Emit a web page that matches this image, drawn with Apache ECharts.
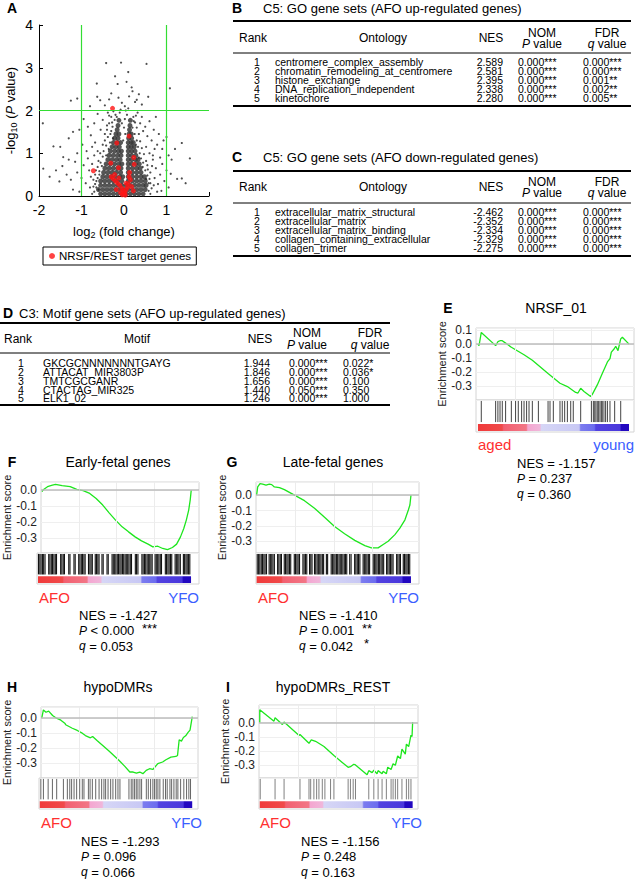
<!DOCTYPE html>
<html>
<head>
<meta charset="utf-8">
<script src="https://cdn.jsdelivr.net/npm/echarts@6/dist/echarts.min.js"></script>
<style>
  html, body { margin: 0; padding: 0; background: #fff; }
  #main { width: 636px; height: 879px; }
</style>
</head>
<body>
<div id="main"></div>
<script>
const FONT = '"Liberation Sans", Arial, sans-serif'

// ---- A: volcano plot ----
const volcanoCore = [
  [-0.55,0.05],[-0.45,0.05],[-0.35,0.05],[-0.25,0.05],[-0.15,0.05],[-0.05,0.05],[0.05,0.05],[0.15,0.05],[0.25,0.05],[0.35,0.05],[0.45,0.05],
  [-0.6,0.15],[-0.5,0.15],[-0.4,0.15],[-0.3,0.15],[-0.2,0.15],[-0.1,0.15],[0.0,0.15],[0.1,0.15],[0.2,0.15],[0.3,0.15],[0.4,0.15],[0.5,0.15],
  [-0.55,0.25],[-0.45,0.25],[-0.35,0.25],[-0.25,0.25],[-0.15,0.25],[-0.05,0.25],[0.05,0.25],[0.15,0.25],[0.25,0.25],[0.35,0.25],[0.45,0.25],[0.52,0.25],
  [-0.55,0.35],[-0.45,0.35],[-0.35,0.35],[-0.25,0.35],[-0.15,0.35],[-0.05,0.35],[0.1,0.35],[0.2,0.35],[0.3,0.35],[0.4,0.35],[0.5,0.35],
  [-0.5,0.45],[-0.4,0.45],[-0.3,0.45],[-0.2,0.45],[-0.1,0.45],[-0.03,0.45],[0.1,0.45],[0.2,0.45],[0.3,0.45],[0.4,0.45],[0.48,0.45],
  [-0.48,0.55],[-0.38,0.55],[-0.28,0.55],[-0.18,0.55],[-0.08,0.55],[0.1,0.55],[0.2,0.55],[0.3,0.55],[0.4,0.55],
  [-0.45,0.65],[-0.35,0.65],[-0.25,0.65],[-0.15,0.65],[-0.07,0.65],[0.1,0.65],[0.2,0.65],[0.3,0.65],[0.38,0.65],
  [-0.42,0.75],[-0.32,0.75],[-0.22,0.75],[-0.12,0.75],[-0.05,0.75],[0.1,0.75],[0.18,0.75],[0.28,0.75],[0.36,0.75],
  [-0.38,0.85],[-0.28,0.85],[-0.18,0.85],[-0.09,0.85],[0.1,0.85],[0.18,0.85],[0.27,0.85],[0.33,0.85],
  [-0.35,0.95],[-0.25,0.95],[-0.15,0.95],[-0.07,0.95],[0.1,0.95],[0.18,0.95],[0.28,0.95],
  [-0.32,1.05],[-0.22,1.05],[-0.13,1.05],[-0.06,1.05],[0.1,1.05],[0.18,1.05],[0.26,1.05],
  [-0.28,1.15],[-0.19,1.15],[-0.11,1.15],[0.1,1.15],[0.17,1.15],[0.24,1.15],
  [-0.25,1.25],[-0.16,1.25],[-0.08,1.25],[0.1,1.25],[0.17,1.25],[0.22,1.25],
  [-0.22,1.35],[-0.14,1.35],[0.11,1.35],[0.18,1.35],
  [-0.19,1.45],[-0.12,1.45],[0.12,1.45],[0.17,1.45],
  [-0.16,1.55],[0.13,1.55],[-0.14,1.65],[0.14,1.65],[-0.12,1.77],[0.15,1.77]
]
const volcanoSparse = [
  [-0.42,3.11],[-0.07,3.12],[0.53,3.09],[-0.21,2.8],[-0.64,2.63],[0.06,2.67],[1.08,2.52],[0.18,2.54],[0.2,2.45],
  [-1.1,2.28],[-1.25,2.23],[-0.63,2.32],[-0.56,2.24],[-0.35,2.26],[-0.13,2.3],[0.12,2.33],[0.35,2.38],[0.57,2.32],
  [-0.8,2.1],[-0.45,2.12],[-0.05,2.18],[0.26,2.2],[0.42,2.14],[0.02,2.1],[-0.3,2.4],[0.1,2.9],[-0.15,2.62],[0.3,2.25],
  [-1.91,1.7],[-1.66,1.16],[-1.5,1.15],[-1.43,0.91],[-1.3,1.35],[-1.2,1.5],[-1.05,1.55],[-0.95,1.8],[-0.85,1.62],
  [-0.78,1.42],[-0.7,1.7],[-0.62,1.92],[-0.55,1.55],[-0.5,1.78],[-0.45,1.3],[-0.4,1.65],[-0.35,1.88],[-0.32,1.45],
  [-0.28,1.72],[-0.38,1.95],[-0.25,1.98],[0.32,1.95],[0.38,1.7],[0.42,1.85],[0.45,1.52],[0.5,1.62],[0.55,1.4],
  [0.6,1.75],[0.65,1.3],[0.7,1.55],[0.78,1.2],[0.82,1.45],[0.9,1.1],[0.93,1.3],[1.0,1.38],[1.05,0.95],[1.36,1.24],
  [1.2,1.1],[0.75,1.85],[-1.1,1.0],[-0.98,1.2],[-0.88,1.05],[-0.75,1.15],[-0.68,1.25],[-0.62,1.05],[0.52,1.15],
  [0.6,1.0],[0.68,0.95],[0.72,1.1],[0.85,0.9],
  [-1.9,0.64],[-1.75,0.45],[-1.6,0.6],[-1.52,0.34],[-1.45,0.7],[-1.35,0.5],[-1.25,0.38],[-1.15,0.8],[-1.1,0.55],
  [-1.0,0.42],[-0.95,0.72],[-0.9,0.3],[-0.85,0.88],[-0.82,0.6],[-0.78,0.45],[-0.75,0.75],[-0.72,0.22],[-0.7,0.95],
  [-0.68,0.5],[-0.65,0.35],[-0.62,0.68],[-0.6,0.15],[0.55,0.72],[0.58,0.3],[0.62,0.55],[0.65,0.18],[0.68,0.85],
  [0.72,0.42],[0.75,0.65],[0.8,0.28],[0.85,0.5],[0.9,0.75],[0.95,0.35],[1.0,0.6],[1.05,0.2],[1.1,0.52],[1.12,0.85],
  [1.25,0.4],[1.36,0.41],[1.55,0.88],[1.45,0.3],[-1.3,0.85],[-1.2,0.15],[-1.05,0.1],[0.78,0.1],[0.88,0.12],
  [-0.7,0.1],[-0.68,0.28],[-0.62,0.42],[-0.58,0.58],[-0.55,0.78],[-0.5,0.92],[-0.48,1.05],[-0.42,1.18],[-0.38,1.38],
  [-0.33,1.25],[-0.3,1.52],[-0.27,1.62],[-0.22,1.78],[-0.2,1.9],[-0.17,1.85],[-0.1,1.95],[0.2,1.6],[0.23,1.75],
  [0.25,1.45],[0.28,1.88],[0.3,1.3],[0.33,1.15],[0.37,1.0],[0.4,0.88],[0.45,0.78],[0.5,0.6],[0.55,0.48],[0.58,0.12],
  [0.62,0.3],[0.0,1.6],[0.02,1.8],[0.04,2.0],
  [-0.75,0.05],[-0.8,0.2],[-0.72,0.38],[-0.66,0.6],[-0.6,0.82],[-0.56,1.0],[-0.5,1.2],[-0.45,1.45],[-0.4,1.55],
  [-0.35,1.7],[-0.3,1.85],[-0.26,1.35],[-0.36,1.1],[-0.42,0.95],[-0.52,0.7],[-0.58,0.5],[-0.65,0.2],
  [0.62,0.05],[0.6,0.4],[0.56,0.62],[0.52,0.82],[0.47,0.98],[0.42,1.12],[0.38,1.28],[0.35,1.45],[0.3,1.6],
  [0.26,1.72],[0.22,1.85],[0.28,1.2],[0.35,0.9],[0.44,0.68],[0.52,0.4],[0.7,0.25],[0.66,0.7],
  [-0.02,1.3],[0.03,1.45],[-0.05,1.7],[0.07,1.9],[0.1,2.05],[-0.08,2.02]
]
const nrsfTargets = [
  [-0.27,2.05],[-0.17,1.24],[0.12,1.4],[0.23,0.9],[0.24,0.74],[-0.31,0.77],[-0.72,0.59],[-0.13,0.66],
  [-0.3,0.45],[-0.25,0.4],[-0.2,0.35],[-0.22,0.5],[-0.15,0.3],[-0.1,0.25],[-0.12,0.42],[-0.05,0.18],
  [-0.02,0.12],[0.0,0.05],[0.02,0.08],[-0.04,0.03],[0.05,0.15],[0.08,0.2],[0.1,0.28],[0.12,0.45],
  [0.15,0.38],[0.13,0.55],[0.18,0.22],[0.05,0.3],[-0.08,0.08],[0.03,0.02],[-0.18,0.15],[0.22,0.12]
]

// ---- B, C, D: tables ----
const tableRanks = [1, 2, 3, 4, 5]
const goUpTerms = ['centromere_complex_assembly', 'chromatin_remodeling_at_centromere', 'histone_exchange', 'DNA_replication_independent', 'kinetochore']
const goUpNES = [2.589, 2.581, 2.395, 2.338, 2.280]
const goUpP = ['0.000***', '0.000***', '0.000***', '0.000***', '0.000***']
const goUpQ = ['0.000***', '0.000***', '0.001**', '0.002**', '0.005**']
const goDownTerms = ['extracellular_matrix_structural', 'extracellular_matrix', 'extracellular_matrix_binding', 'collagen_containing_extracellular', 'collagen_trimer']
const goDownNES = [-2.462, -2.352, -2.334, -2.329, -2.275]
const goDownP = ['0.000***', '0.000***', '0.000***', '0.000***', '0.000***']
const goDownQ = ['0.000***', '0.000***', '0.000***', '0.000***', '0.000***']
const motifTerms = ['GKCGCNNNNNNNTGAYG', 'ATTACAT_MIR3803P', 'TMTCGCGANR', 'CTACTAG_MIR325', 'ELK1_02']
const motifNES = [1.944, 1.846, 1.656, 1.440, 1.246]
const motifP = ['0.000***', '0.000***', '0.000***', '0.050***', '0.000***']
const motifQ = ['0.022*', '0.036*', '0.100', '0.350', '1.000']

// ---- E-I: GSEA running enrichment scores (rank in % of list) ----
const eRank = [0, 0.7, 2.2, 11.7, 13.2, 14.6, 16.1, 18.3, 22.1, 30.5, 36.0, 46.4, 54.3, 59.2, 64.7, 66.2, 68.0, 70.2, 74.6, 75.7, 79.0, 82.3, 85.7, 87.4, 88.3, 90.1, 91.2, 92.7, 94.5, 95.6, 100]
const eScore = [0, -0.012, 0.083, -0.011, 0.017, 0.024, 0.024, 0.007, -0.023, -0.076, -0.116, -0.21, -0.28, -0.304, -0.346, -0.35, -0.316, -0.339, -0.375, -0.36, -0.292, -0.21, -0.128, -0.104, -0.058, -0.035, -0.016, -0.047, 0.037, 0.049, 0]
const eHits = [2.2, 11.7, 13.2, 14.6, 16.1, 18.3, 22.1, 24.9, 26.7, 28.9, 30.5, 32.2, 33.8, 36.0, 40.0, 46.4, 47.7, 49.9, 54.3, 55.8, 57.4, 59.2, 61.4, 63.1, 68.0, 75.1, 76.4, 77.3, 78.1, 79.0, 79.9, 80.8, 81.7, 82.3, 83.4, 84.5, 85.7, 87.4, 90.5, 94.5]

const fRank = [0, 1.1, 3.7, 7.0, 9.1, 13.5, 18.9, 23.3, 27.6, 32.0, 36.3, 40.7, 45.0, 49.3, 53.7, 58.0, 62.4, 66.7, 71.1, 74.3, 77.6, 80.9, 84.1, 87.4, 90.2, 92.8, 95.0, 96.7, 98.3, 99.3, 100]
const fScore = [-0.01, 0.004, 0.021, 0.031, 0.035, 0.027, 0.021, 0.004, -0.004, -0.021, -0.052, -0.093, -0.141, -0.186, -0.228, -0.259, -0.29, -0.315, -0.335, -0.352, -0.348, -0.362, -0.369, -0.356, -0.335, -0.29, -0.238, -0.186, -0.124, -0.062, 0]
const fHits = [0.3, 1.2, 2.0, 2.9, 3.7, 4.6, 7.0, 7.8, 8.7, 9.5, 10.4, 11.3, 12.1, 14.8, 15.6, 16.5, 17.3, 20.1, 20.9, 23.5, 24.3, 26.6, 27.4, 28.3, 29.1, 30.0, 30.8, 33.0, 33.9, 34.7, 35.5, 37.4, 38.2, 39.1, 39.9, 41.8, 42.6, 45.1, 45.9, 48.4, 49.2, 50.1, 50.9, 51.8, 52.6, 53.5, 54.3, 55.2, 56.0, 56.9, 57.7, 58.6, 59.4, 60.3, 61.1, 63.6, 64.4, 65.3, 67.9, 68.7, 69.6, 70.4, 71.3, 72.1, 73.0, 73.8, 74.6, 76.5, 77.3, 78.2, 79.0, 79.9, 80.7, 83.2, 84.0, 84.9, 85.7, 86.6, 87.4, 89.6, 90.4, 91.3, 92.1, 93.0, 95.0, 95.8, 96.7, 97.5, 98.4, 99.2]

const gRank = [0, 0.7, 2.2, 3.9, 6.1, 8.2, 9.8, 11.5, 14.8, 18.0, 24.5, 31.0, 37.5, 44.0, 50.5, 57.0, 63.6, 70.1, 74.4, 78.7, 82.0, 85.2, 89.6, 92.8, 96.1, 98.3, 99.3, 100]
const gScore = [0, 0.053, 0.075, 0.071, 0.064, 0.071, 0.068, 0.053, 0.049, 0.036, 0, -0.036, -0.085, -0.143, -0.203, -0.25, -0.293, -0.327, -0.342, -0.342, -0.32, -0.299, -0.256, -0.214, -0.16, -0.096, -0.064, 0]
const gHits = [0.4, 1.3, 2.1, 3.0, 3.8, 4.7, 5.5, 6.4, 8.1, 8.9, 9.8, 10.6, 11.5, 13.6, 14.4, 15.3, 16.1, 17.9, 18.7, 19.6, 20.4, 21.3, 22.1, 24.4, 25.2, 26.1, 26.9, 27.8, 30.0, 30.8, 31.7, 32.5, 34.3, 35.1, 35.9, 37.5, 38.3, 39.2, 40.0, 40.9, 41.7, 42.6, 43.4, 45.2, 46.0, 48.3, 49.1, 50.0, 50.8, 51.7, 52.5, 53.4, 54.2, 55.1, 55.9, 56.8, 57.6, 58.4, 60.3, 61.2, 63.5, 64.3, 65.2, 66.0, 66.9, 69.0, 69.8, 70.7, 71.5, 72.4, 73.2, 75.5, 76.3, 77.2, 78.0, 78.9, 79.7, 80.6, 81.4, 82.3, 84.2, 85.0, 85.9, 86.7, 87.6, 88.4, 90.7, 91.5, 92.4, 93.2, 95.0, 95.8, 96.7, 97.5, 98.4, 99.2]

const hRank = [0, 1.1, 2.8, 4.6, 7.2, 9.8, 12.7, 15.5, 15.9, 20.3, 23.6, 26.9, 29.0, 32.3, 33.8, 36.7, 44.3, 50.9, 55.2, 58.5, 60.7, 62.9, 65.1, 67.2, 69.4, 71.6, 73.8, 77.1, 80.3, 82.5, 85.8, 89.1, 90.2, 91.3, 92.8, 94.1, 95.6, 97.2, 98.5, 100]
const hScore = [0, 0.055, 0.04, 0.047, 0.018, 0, -0.013, -0.036, -0.044, -0.067, -0.082, -0.1, -0.116, -0.131, -0.122, -0.149, -0.216, -0.278, -0.322, -0.36, -0.36, -0.367, -0.36, -0.371, -0.349, -0.338, -0.343, -0.304, -0.293, -0.278, -0.26, -0.256, -0.249, -0.144, -0.153, -0.129, -0.118, -0.095, -0.08, 0.011]
const hHits = [0.7, 2.4, 5.5, 8.3, 11.1, 15.5, 18.1, 19.7, 20.9, 22.5, 24.2, 26.2, 27.9, 29.0, 31.9, 33.0, 34.5, 36.7, 38.9, 40.6, 42.1, 43.2, 44.8, 46.5, 48.0, 49.8, 51.3, 52.6, 58.5, 60.0, 61.1, 62.2, 63.3, 64.4, 65.7, 66.8, 69.9, 71.2, 72.7, 74.2, 75.3, 76.4, 77.5, 78.8, 81.0, 82.5, 83.6, 85.4, 86.5, 88.0, 89.5, 90.6, 92.4, 94.5, 96.3, 97.8, 98.9]

const iRank = [0, 0, 9.3, 10.0, 14.8, 15.9, 25.7, 26.3, 32.2, 33.7, 36.5, 42.0, 48.5, 57.8, 59.3, 61.5, 62.6, 70.2, 71.3, 73.5, 74.6, 76.7, 77.4, 80.0, 80.7, 82.8, 83.7, 85.9, 87.2, 88.7, 90.2, 92.0, 93.0, 95.2, 95.9, 97.4, 98.9, 99.6, 100]
const iScore = [0, 0.092, 0.011, 0.035, -0.012, 0.005, -0.09, -0.083, -0.145, -0.121, -0.131, -0.168, -0.232, -0.315, -0.31, -0.293, -0.298, -0.367, -0.338, -0.352, -0.335, -0.36, -0.338, -0.36, -0.342, -0.36, -0.314, -0.33, -0.29, -0.3, -0.235, -0.253, -0.187, -0.222, -0.151, -0.168, -0.088, -0.097, 0.004]
const iHits = [0.3, 10.0, 15.9, 26.3, 32.2, 33.3, 35.4, 37.2, 38.7, 40.9, 42.6, 46.3, 48.5, 57.8, 59.3, 61.1, 62.6, 71.3, 74.6, 77.4, 80.0, 82.8, 85.9, 87.2, 88.7, 90.2, 93.0, 95.9, 97.4, 98.9]

const gseaNES = { E: '-1.157', F: '-1.427', G: '-1.410', H: '-1.293', I: '-1.156' }
const gseaP = { E: '= 0.237', F: '< 0.000', G: '= 0.001', H: '= 0.096', I: '= 0.248' }
const gseaQ = { E: '= 0.360', F: '= 0.053', G: '= 0.042', H: '= 0.066', I: '= 0.163' }
const gseaPStar = { F: '***', G: '**' }
const gseaQStar = { G: '*' }

// layout of GSEA panels
const panels = [
  { key: 'E', title: 'NRSF_01', rank: eRank, es: eScore, hits: eHits, left: 476, top: 328, width: 158, esH: 72, lowH: 32,
    xMin: -1.3, xMax: 103.3, yMin: -0.4, yMax: 0.115, labelTop: 0.1, hitColor: '#444', hitW: 1,
    titleX: 556, titleY: 308, letterX: 448, lowLeft: 'aged', lowRight: 'young', lowY: 444, lowL: 478, lowR: 634, statX: 517, statY: 463 },
  { key: 'F', title: 'Early-fetal genes', rank: fRank, es: fScore, hits: fHits, left: 37, top: 482, width: 162, esH: 71, lowH: 31,
    xMin: -0.65, xMax: 105.2, yMin: -0.39, yMax: 0.05, labelTop: 0, hitColor: '#111', hitW: 1.1,
    titleX: 118, titleY: 462, letterX: 12, lowLeft: 'AFO', lowRight: 'YFO', lowY: 597, lowL: 39, lowR: 199, statX: 79, statY: 615, starX: 142 },
  { key: 'G', title: 'Late-fetal genes', rank: gRank, es: gScore, hits: gHits, left: 256, top: 482, width: 163, esH: 71, lowH: 31,
    xMin: -0.4, xMax: 105.2, yMin: -0.375, yMax: 0.085, labelTop: 0, hitColor: '#111', hitW: 1.1,
    titleX: 333, titleY: 462, letterX: 232, lowLeft: 'AFO', lowRight: 'YFO', lowY: 597, lowL: 258, lowR: 419, statX: 299, statY: 615, starX: 362 },
  { key: 'H', title: 'hypoDMRs', rank: hRank, es: hScore, hits: hHits, left: 39, top: 707, width: 159, esH: 71, lowH: 31,
    xMin: -0.5, xMax: 103.8, yMin: -0.4, yMax: 0.075, labelTop: 0, hitColor: '#666', hitW: 1,
    titleX: 118, titleY: 687, letterX: 12, lowLeft: 'AFO', lowRight: 'YFO', lowY: 822, lowL: 41, lowR: 202, statX: 81, statY: 841 },
  { key: 'I', title: 'hypoDMRs_REST', rank: iRank, es: iScore, hits: iHits, left: 259, top: 705, width: 159, esH: 73, lowH: 31,
    xMin: -0.5, xMax: 103.5, yMin: -0.39, yMax: 0.125, labelTop: 0, hitColor: '#808080', hitW: 1,
    titleX: 333, titleY: 687, letterX: 228, lowLeft: 'AFO', lowRight: 'YFO', lowY: 822, lowL: 260, lowR: 422, statX: 301, statY: 841 }
]

const rankColors = [
  { offset: 0, color: '#f03a3a' }, { offset: 0.16, color: '#f04a4a' },
  { offset: 0.17, color: '#f26070' }, { offset: 0.32, color: '#f27686' },
  { offset: 0.33, color: '#f4a6d0' }, { offset: 0.41, color: '#f0b6da' },
  { offset: 0.42, color: '#d6d6f6' }, { offset: 0.67, color: '#c8c8f4' },
  { offset: 0.68, color: '#7c7cef' }, { offset: 0.77, color: '#6c6cee' },
  { offset: 0.78, color: '#5242e0' }, { offset: 0.94, color: '#4a38dc' },
  { offset: 0.95, color: '#2208c0' }, { offset: 1, color: '#2208c0' }
]

// text helpers for graphic
function txt(x, y, s, o) {
  const st = Object.assign({
    text: s, x: x, y: y, fill: '#000', fontSize: 11, fontFamily: FONT,
    align: 'left', verticalAlign: 'middle', textAlign: 'left', textVerticalAlign: 'middle'
  }, o || {})
  if (o && o.align) st.textAlign = o.align
  if (o && o.verticalAlign) st.textVerticalAlign = o.verticalAlign
  return { type: 'text', silent: true, z: 100, style: st }
}
function hline(x1, x2, y, w) {
  return { type: 'line', silent: true, z: 100, shape: { x1: x1, y1: y, x2: x2, y2: y }, style: { stroke: '#000', lineWidth: w } }
}
const italic = { i: { fontStyle: 'italic', fontFamily: FONT } }

// each table column is one multi-line text block
function table(o) {
  const g = []
  g.push(txt(o.letterX, o.titleY, o.letter, { fontSize: 14, fontWeight: 'bold', align: 'center' }))
  g.push(txt(o.titleX, o.titleY, o.title, { fontSize: 13 }))
  g.push(hline(o.x1, o.x2, o.lines[0], 2))
  g.push(hline(o.x1, o.x2, o.lines[1], 1))
  g.push(hline(o.x1, o.x2, o.lines[2], 2))
  const hl = o.hBot - o.hTop
  const hs = { fontSize: 12, align: 'center' }
  const hs2 = { fontSize: 12, align: 'center', verticalAlign: 'top', lineHeight: hl,
    rich: { i: { fontStyle: 'italic', fontFamily: FONT, fontSize: 12, lineHeight: hl } } }
  g.push(txt(o.hRank, o.hMid, 'Rank', hs))
  g.push(txt(o.hTerm, o.hMid, o.termHead, hs))
  g.push(txt(o.hNes, o.hMid, 'NES', hs))
  g.push(txt(o.hP, o.hTop - hl / 2, 'NOM\n{i|P} value', hs2))
  g.push(txt(o.hQ, o.hTop - hl / 2, 'FDR\n{i|q} value', hs2))
  const lh = (o.rowY[4] - o.rowY[0]) / 4
  const top = o.rowY[0] - lh / 2
  const rs = { fontSize: 10.5, lineHeight: lh, verticalAlign: 'top' }
  g.push(txt(o.cRank, top, tableRanks.join('\n'), Object.assign({ align: 'center' }, rs)))
  g.push(txt(o.cTerm, top, o.terms.join('\n'), rs))
  g.push(txt(o.cNes, top, o.nes.map((v) => v.toFixed(3)).join('\n'), Object.assign({ align: 'right' }, rs)))
  g.push(txt(o.cP, top, o.p.join('\n'), rs))
  g.push(txt(o.cQ, top, o.q.join('\n'), rs))
  return g
}

const graphics = []
graphics.push(txt(12, 8, 'A', { fontSize: 14, fontWeight: 'bold', align: 'center' }))
graphics.push(...table({
  letter: 'B', letterX: 237, titleX: 263, titleY: 8, title: 'C5: GO gene sets (AFO up-regulated genes)',
  x1: 233, x2: 631, lines: [21, 53, 106], hTop: 33, hBot: 43.5, hMid: 38,
  hRank: 253, hTerm: 383, hNes: 491, hP: 542, hQ: 607, termHead: 'Ontology',
  cRank: 257, cTerm: 275, cNes: 503, cP: 518, cQ: 583, rowY: [62, 71, 80, 89.2, 98.4],
  terms: goUpTerms, nes: goUpNES, p: goUpP, q: goUpQ
}))
graphics.push(...table({
  letter: 'C', letterX: 237, titleX: 263, titleY: 157, title: 'C5: GO gene sets (AFO down-regulated genes)',
  x1: 233, x2: 631, lines: [171, 203, 256], hTop: 182, hBot: 193, hMid: 187,
  hRank: 253, hTerm: 383, hNes: 491, hP: 542, hQ: 607, termHead: 'Ontology',
  cRank: 257, cTerm: 275, cNes: 503, cP: 518, cQ: 583, rowY: [212, 221, 230, 239.2, 248.4],
  terms: goDownTerms, nes: goDownNES, p: goDownP, q: goDownQ
}))
graphics.push(...table({
  letter: 'D', letterX: 8, titleX: 19, titleY: 313, title: 'C3: Motif gene sets (AFO up-regulated genes)',
  x1: 0, x2: 390, lines: [323, 353, 405], hTop: 333, hBot: 345, hMid: 339,
  hRank: 18, hTerm: 137, hNes: 260, hP: 307, hQ: 370, termHead: 'Motif',
  cRank: 21, cTerm: 43, cNes: 270, cP: 289, cQ: 343, rowY: [363.3, 372.1, 380.9, 389.6, 398.4],
  terms: motifTerms, nes: motifNES, p: motifP, q: motifQ
}))

// ---- build chart ----
const grids = [{ left: 39, top: 25, width: 170, height: 171 }]
const xAxes = [{
  gridIndex: 0, type: 'value', min: -2, max: 2, interval: 1,
  axisLine: { onZero: false, lineStyle: { color: '#000' } },
  axisTick: { inside: true, length: 4, lineStyle: { color: '#000' } },
  axisLabel: { fontSize: 14, color: '#000', fontFamily: FONT, margin: 7 },
  splitLine: { show: false },
  name: 'log{sub|2} (fold change)', nameLocation: 'middle', nameGap: 27,
  nameTextStyle: { fontSize: 13, color: '#000', fontFamily: FONT,
    rich: { sub: { fontSize: 9, fontFamily: FONT, color: '#000', padding: [7, 0, 0, 0] } } }
}]
const yAxes = [{
  gridIndex: 0, type: 'value', min: 0, max: 4, interval: 1,
  axisLine: { show: true, onZero: false, lineStyle: { color: '#000' } },
  axisTick: { show: true, inside: true, length: 4, lineStyle: { color: '#000' } },
  axisLabel: { fontSize: 14, color: '#000', fontFamily: FONT, margin: 6 },
  splitLine: { show: false },
  name: '-log{sub|10} ({it|P} value)', nameLocation: 'middle', nameGap: 21,
  nameTextStyle: { fontSize: 13, color: '#000', fontFamily: FONT,
    rich: { sub: { fontSize: 9, fontFamily: FONT, color: '#000', padding: [7, 0, 0, 0] },
            it: { fontSize: 13, fontStyle: 'italic', fontFamily: FONT, color: '#000' } } }
}]
const series = [
  {
    type: 'scatter', xAxisIndex: 0, yAxisIndex: 0, data: volcanoCore, symbolSize: 5, silent: true,
    itemStyle: { color: '#383838', opacity: 0.85 }, z: 2,
    markLine: {
      silent: true, symbol: 'none', label: { show: false },
      lineStyle: { color: '#33dd33', width: 1.2, type: 'solid' },
      data: [{ xAxis: -1 }, { xAxis: 1 }, { yAxis: 2 }]
    }
  },
  { type: 'scatter', xAxisIndex: 0, yAxisIndex: 0, data: volcanoSparse, symbolSize: 2.2, silent: true, itemStyle: { color: '#222' }, z: 2 },
  { type: 'scatter', name: 'NRSF/REST target genes', xAxisIndex: 0, yAxisIndex: 0, data: nrsfTargets, symbolSize: 5, silent: true, itemStyle: { color: '#ff1414' }, z: 4 }
]

function esLabel(p) {
  return function (v) {
    const r = Math.round(v * 10) / 10
    if (Math.abs(v - r) > 1e-6 || r < -0.35 || r > p.labelTop + 1e-6) return ''
    return Math.abs(r) < 1e-9 ? '0.0' : r.toFixed(1)
  }
}

panels.forEach((p) => {
  const gi = grids.length
  grids.push({ left: p.left, top: p.top, width: p.width, height: p.esH, show: true, borderColor: '#d4d4d4', borderWidth: 1, backgroundColor: '#fff' })
  grids.push({ left: p.left, top: p.top + p.esH, width: p.width, height: p.lowH, show: true, borderColor: '#d4d4d4', borderWidth: 1, backgroundColor: '#fff' })
  xAxes.push({ gridIndex: gi, type: 'value', min: p.xMin, max: p.xMax, show: false })
  xAxes.push({ gridIndex: gi + 1, type: 'value', min: p.xMin, max: p.xMax, show: false })
  yAxes.push({
    gridIndex: gi, type: 'value', min: p.yMin, max: p.yMax,
    axisLine: { show: false }, axisTick: { show: false },
    axisLabel: { fontSize: 12, color: '#222', fontFamily: FONT, margin: 4, formatter: esLabel(p), showMinLabel: false },
    splitLine: { lineStyle: { color: '#efefef' } },
    name: 'Enrichment score', nameLocation: 'middle', nameGap: 29,
    nameTextStyle: { fontSize: 11, color: '#222', fontFamily: FONT }
  })
  yAxes.push({ gridIndex: gi + 1, type: 'value', min: 0, max: 1, show: false })

  // light guide lines and the zero line
  series.push({
    type: 'line', xAxisIndex: gi, yAxisIndex: gi, data: [], silent: true, z: 1,
    markLine: {
      silent: true, symbol: 'none', label: { show: false },
      lineStyle: { color: '#ececec', width: 1, type: 'solid' },
      data: [{ xAxis: 25 }, { xAxis: 50 }, { xAxis: 75 },
        { yAxis: 0, lineStyle: { color: '#bdbdbd', width: 1.6, type: 'solid' } }]
    }
  })
  series.push({
    type: 'line', xAxisIndex: gi, yAxisIndex: gi, z: 3, silent: true,
    data: p.rank.map((r, i) => [r, p.es[i]]),
    showSymbol: false, lineStyle: { color: '#1ee61e', width: 1.3 }
  })
  series.push({
    type: 'custom', xAxisIndex: gi + 1, yAxisIndex: gi + 1, silent: true,
    data: p.hits.map((h) => [h, 0.5]),
    encode: { x: 0, y: 1 },
    renderItem: function (params, api) {
      const a = api.coord([api.value(0), 0.31])
      const b = api.coord([api.value(0), 0.97])
      return { type: 'line', shape: { x1: a[0], y1: a[1], x2: b[0], y2: b[1] }, style: { stroke: p.hitColor, lineWidth: p.hitW } }
    }
  })
  series.push({
    type: 'custom', xAxisIndex: gi + 1, yAxisIndex: gi + 1, silent: true,
    data: [[0, 100]],
    encode: { x: [0, 1] },
    renderItem: function (params, api) {
      const a = api.coord([api.value(0), 0.25])
      const b = api.coord([api.value(1), 0.03])
      return {
        type: 'rect', shape: { x: a[0], y: a[1], width: b[0] - a[0], height: b[1] - a[1] },
        style: { fill: new echarts.graphic.LinearGradient(0, 0, 1, 0, rankColors) }
      }
    }
  })

  graphics.push(txt(p.letterX, p.titleY, p.key, { fontSize: 14, fontWeight: 'bold', align: 'center' }))
  graphics.push(txt(p.titleX, p.titleY, p.title, { fontSize: 14, align: 'center' }))
  graphics.push(txt(p.lowL, p.lowY, p.lowLeft, { fontSize: 15, fill: '#ff3030' }))
  graphics.push(txt(p.lowR, p.lowY, p.lowRight, { fontSize: 15, fill: '#3a60ff', align: 'right' }))
  graphics.push(txt(p.statX, p.statY, 'NES = ' + gseaNES[p.key], { fontSize: 13, lineHeight: 14 }))
  graphics.push(txt(p.statX, p.statY + 15.5, '{i|P} ' + gseaP[p.key], { fontSize: 13, lineHeight: 14, rich: italic }))
  graphics.push(txt(p.statX, p.statY + 31, '{i|q} ' + gseaQ[p.key], { fontSize: 13, lineHeight: 14, rich: italic }))
  if (gseaPStar[p.key]) graphics.push(txt(p.starX, p.statY + 13, gseaPStar[p.key], { fontSize: 13, lineHeight: 10 }))
  if (gseaQStar[p.key]) graphics.push(txt(p.starX + 2, p.statY + 28.5, gseaQStar[p.key], { fontSize: 13, lineHeight: 10 }))
})

const chart = echarts.init(document.getElementById('main'), null, { renderer: 'svg' })
chart.setOption({
  animation: false,
  backgroundColor: '#fff',
  textStyle: { fontFamily: FONT },
  legend: {
    data: [{ name: 'NRSF/REST target genes', icon: 'circle' }],
    left: 43, top: 247, padding: [3, 5, 3, 6], itemWidth: 6, itemHeight: 6, itemGap: 4,
    borderColor: '#000', borderWidth: 1, selectedMode: false,
    textStyle: { fontSize: 11.5, color: '#000', fontFamily: FONT, padding: [0, 0, 0, -1] }
  },
  grid: grids,
  xAxis: xAxes,
  yAxis: yAxes,
  series: series,
  graphic: graphics
})
</script>
</body>
</html>
